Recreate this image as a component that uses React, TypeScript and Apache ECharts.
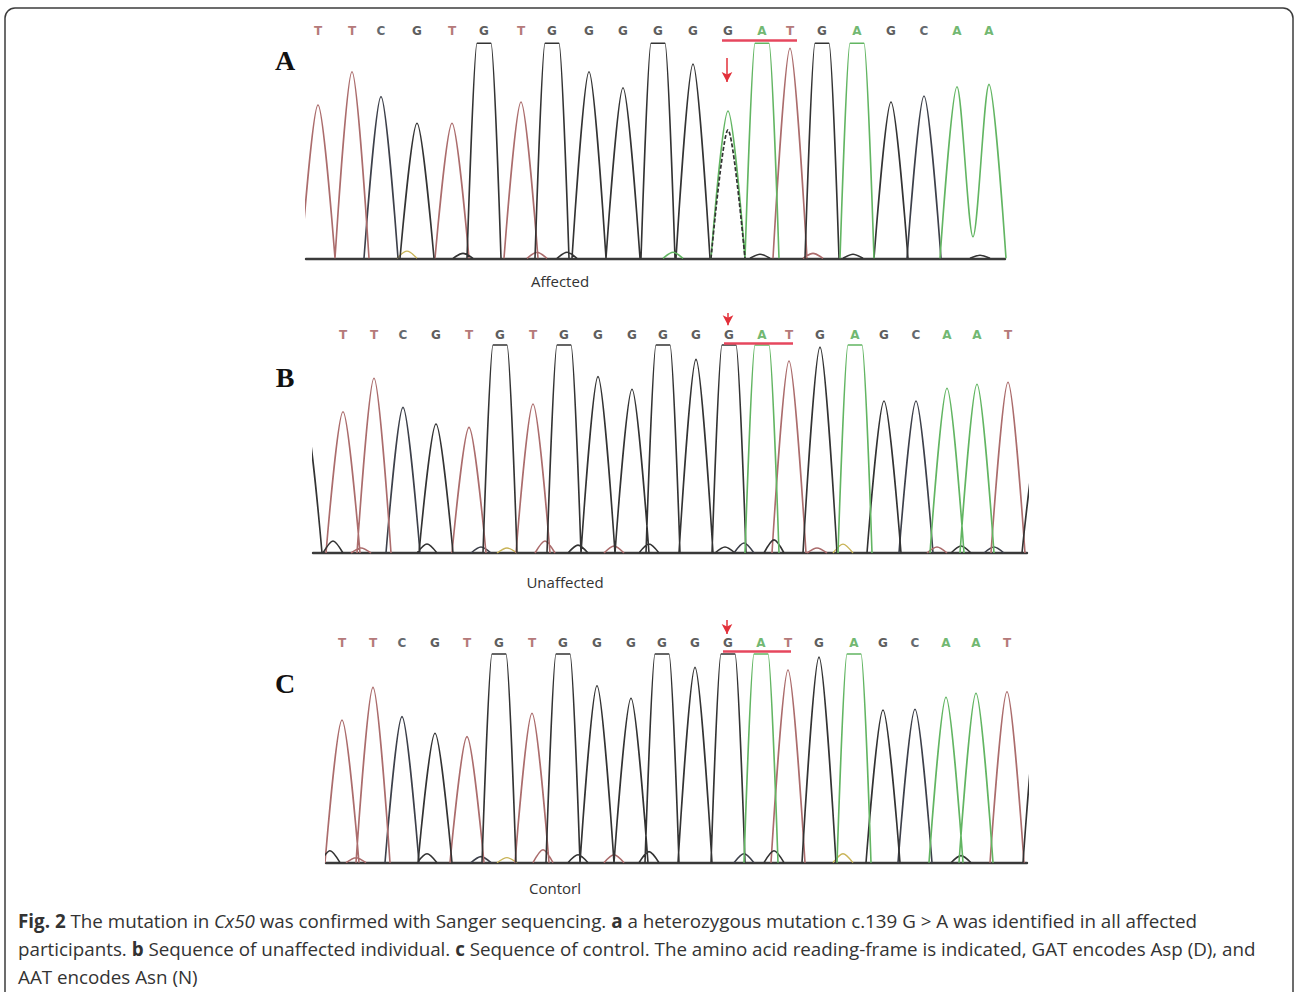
import React, { useEffect, useRef } from "react";
import * as echarts from "echarts";

// ---------- DATA (scan position units, RFU heights; 1000 = detector saturation) ----------
const A_CALLS = ["T","T","C","G","T","G","T","G","G","G","G","G","G","A","T","G","A","G","C","A","A"];
const A_DYES = ["T","T","C","G","T","G","T","G","G","G","G","G","A","A","T","G","A","G","C","A","A"];
const A_POS = [18, 52, 81, 117, 152, 184, 221, 252, 289, 323, 358, 393, 428, 462, 490, 522, 557, 591, 624, 657, 689];
const A_HEIGHT = [713, 868, 752, 628, 628, 1000, 727, 1000, 868, 793, 1000, 904, 685, 1000, 977, 1000, 1000, 727, 755, 798, 809];
const A_SEC_POS = [428];
const A_SEC_HEIGHT = [597];
const A_SEC_DYE = ["G"];
const A_JOINS = [[19, 100]];
const A_EDGE_POS: number[] = [];
const A_EDGE_HEIGHT: number[] = [];
const A_EDGE_DYE: string[] = [];
const A_NOISE_POS = [107, 163, 237, 267, 373, 460, 513, 553, 680];
const A_NOISE_HEIGHT = [33, 23, 28, 28, 28, 19, 23, 19, 14];
const A_NOISE_DYE = ["N", "G", "T", "G", "A", "G", "T", "G", "G"];

const B_CALLS = ["T","T","C","G","T","G","T","G","G","G","G","G","G","A","T","G","A","G","C","A","A","T"];
const B_DYES = B_CALLS;
const B_POS = [43, 74, 103, 136, 169, 200, 233, 264, 298, 332, 363, 396, 429, 462, 489, 520, 555, 584, 616, 647, 677, 708];
const B_HEIGHT = [679, 840, 700, 620, 604, 1000, 716, 1000, 848, 787, 1000, 931, 1000, 1000, 923, 990, 1000, 731, 731, 792, 811, 821];
const B_EDGE_POS = [5, 739];
const B_EDGE_HEIGHT = [660, 570];
const B_EDGE_DYE = ["G", "G"];
const B_NOISE_POS = [33, 61, 127, 181, 207, 245, 278, 314, 349, 425, 444, 474, 517, 543, 637, 661, 694];
const B_NOISE_HEIGHT = [58, 24, 43, 29, 24, 58, 38, 34, 43, 29, 48, 63, 24, 43, 29, 34, 29];
const B_NOISE_DYE = ["G", "T", "G", "C", "N", "T", "G", "T", "G", "G", "C", "G", "T", "N", "T", "G", "C"];

const C_CALLS = ["T","T","C","G","T","G","T","G","G","G","G","G","G","A","T","G","A","G","C","A","A","T"];
const C_DYES = C_CALLS;
const C_POS = [42, 73, 102, 135, 167, 199, 232, 263, 297, 331, 362, 395, 428, 461, 488, 519, 554, 583, 615, 646, 676, 707];
const C_HEIGHT = [684, 840, 700, 620, 604, 1000, 716, 1000, 848, 788, 1000, 936, 1000, 1000, 923, 985, 1000, 732, 735, 793, 812, 819];
const C_EDGE_POS = [740];
const C_EDGE_HEIGHT = [815];
const C_EDGE_DYE = ["G"];
const C_NOISE_POS = [30, 56, 127, 181, 207, 243, 278, 314, 349, 444, 474, 543, 661];
const C_NOISE_HEIGHT = [57, 24, 43, 29, 24, 62, 38, 38, 53, 43, 57, 43, 34];
const C_NOISE_DYE = ["G", "T", "G", "C", "N", "T", "G", "T", "G", "C", "G", "N", "G"];

const CONDITIONS = ["Affected", "Unaffected", "Contorl"];
const PANEL_LETTERS = ["A", "B", "C"];

// ---------- STYLE / LAYOUT ----------
const HALF = 17;
const FLAT = 7;
const NOISE_HALF = 10;
const SAT = 1000;

const DYE_COLORS: Record<string, string> = {
  G: "#333333",
  A: "#62b562",
  T: "#ab6c6c",
  C: "#3d404a",
  N: "#c9b458",
};
const CALL_COLORS: Record<string, string> = {
  G: "#5e5e5e",
  A: "#72b872",
  T: "#b57a7a",
  C: "#65696f",
};

const LAYOUT = [
  { left: 306, right: 1005, xMin: 6, xMax: 705, base: 258.3, ppu: 0.215, yMax: 1100, letterY: 1057,
    under: [422, 497, 1015], arrow: [427, 932, 820], labelX: 560, labelY: 281, tagY: 60 },
  { left: 313, right: 1027, xMin: 13, xMax: 727, base: 553, ppu: 0.208, yMax: 1200, letterY: 1048,
    under: [424, 493, 1010], arrow: [428, 1154, 1095], labelX: 565, labelY: 582, tagY: 377 },
  { left: 326, right: 1027, xMin: 26, xMax: 727, base: 862.7, ppu: 0.2087, yMax: 1200, letterY: 1051,
    under: [423, 491, 1014], arrow: [427, 1163, 1096], labelX: 555, labelY: 888, tagY: 683 },
];

const PANELS = [
  { calls: A_CALLS, dyes: A_DYES, pos: A_POS, height: A_HEIGHT, joins: A_JOINS,
    secPos: A_SEC_POS, secHeight: A_SEC_HEIGHT, secDye: A_SEC_DYE,
    edgePos: A_EDGE_POS, edgeHeight: A_EDGE_HEIGHT, edgeDye: A_EDGE_DYE,
    noisePos: A_NOISE_POS, noiseHeight: A_NOISE_HEIGHT, noiseDye: A_NOISE_DYE },
  { calls: B_CALLS, dyes: B_DYES, pos: B_POS, height: B_HEIGHT, joins: [] as number[][],
    secPos: [] as number[], secHeight: [] as number[], secDye: [] as string[],
    edgePos: B_EDGE_POS, edgeHeight: B_EDGE_HEIGHT, edgeDye: B_EDGE_DYE,
    noisePos: B_NOISE_POS, noiseHeight: B_NOISE_HEIGHT, noiseDye: B_NOISE_DYE },
  { calls: C_CALLS, dyes: C_DYES, pos: C_POS, height: C_HEIGHT, joins: [] as number[][],
    secPos: [] as number[], secHeight: [] as number[], secDye: [] as string[],
    edgePos: C_EDGE_POS, edgeHeight: C_EDGE_HEIGHT, edgeDye: C_EDGE_DYE,
    noisePos: C_NOISE_POS, noiseHeight: C_NOISE_HEIGHT, noiseDye: C_NOISE_DYE },
];

function peakPoints(p: number, h: number, half: number): number[][] {
  if (h >= SAT) {
    return [[p - half, 0], [p - FLAT, SAT], [p + FLAT, SAT], [p + half, 0]];
  }
  return [[p - half, 0], [p, h], [p + half, 0]];
}

function flatten(segs: number[][][]): any[] {
  const out: any[] = [];
  segs.forEach((s) => {
    s.forEach((pt) => out.push(pt));
    out.push([s[s.length - 1][0], null]);
  });
  return out;
}

function buildOption() {
  const grid: any[] = [];
  const xAxis: any[] = [];
  const yAxis: any[] = [];
  const series: any[] = [];

  PANELS.forEach((P, i) => {
    const L = LAYOUT[i];
    const h = L.yMax * L.ppu;
    grid.push({ left: L.left, width: L.right - L.left, top: L.base - h, height: h, containLabel: false });
    xAxis.push({
      type: "value", gridIndex: i, min: L.xMin, max: L.xMax,
      axisLine: { show: true, onZero: false, lineStyle: { color: "#3a3a3a", width: 2.4 } },
      axisTick: { show: false }, axisLabel: { show: false }, splitLine: { show: false },
    });
    yAxis.push({ type: "value", gridIndex: i, min: 0, max: L.yMax, show: false, splitLine: { show: false } });

    const segs: Record<string, number[][][]> = {};
    const add = (d: string, pts: number[][]) => {
      (segs[d] = segs[d] || []).push(pts);
    };
    P.noisePos.forEach((p, k) => add(P.noiseDye[k], peakPoints(p, P.noiseHeight[k], NOISE_HALF)));
    P.edgePos.forEach((p, k) => add(P.edgeDye[k], peakPoints(p, P.edgeHeight[k], HALF)));
    const joinMap: Record<number, number> = {};
    P.joins.forEach((j) => (joinMap[j[0]] = j[1]));
    for (let k = 0; k < P.pos.length; k++) {
      const s = peakPoints(P.pos[k], P.height[k], HALF);
      if (joinMap[k] !== undefined && k + 1 < P.pos.length) {
        const s2 = peakPoints(P.pos[k + 1], P.height[k + 1], HALF);
        const mid = (P.pos[k] + P.pos[k + 1]) / 2;
        add(P.dyes[k], [...s.slice(0, -1), [mid, joinMap[k]], ...s2.slice(1)]);
        k++;
      } else {
        add(P.dyes[k], s);
      }
    }
    ["N", "C", "T", "G", "A"].forEach((d) => {
      if (!segs[d]) return;
      series.push({
        type: "line", xAxisIndex: i, yAxisIndex: i, data: flatten(segs[d]),
        smooth: 0.3, smoothMonotone: "x", showSymbol: false, symbol: "none",
        connectNulls: false, clip: true, silent: true,
        lineStyle: { color: DYE_COLORS[d], width: d === "N" ? 1.3 : 1.6 },
        z: 2,
      });
    });
    if (P.secPos.length) {
      const sec: number[][][] = P.secPos.map((p, k) => peakPoints(p, P.secHeight[k], HALF));
      series.push({
        type: "line", xAxisIndex: i, yAxisIndex: i, data: flatten(sec),
        smooth: 0.3, smoothMonotone: "x", showSymbol: false, symbol: "none", silent: true,
        lineStyle: { color: DYE_COLORS[P.secDye[0]], width: 1.7, type: [4, 2] },
        z: 3,
      });
    }
    // base calls + annotation
    series.push({
      type: "scatter", xAxisIndex: i, yAxisIndex: i, symbolSize: 1, silent: true,
      clip: false,
      itemStyle: { color: "rgba(0,0,0,0)" },
      data: P.calls.map((c, k) => ({
        name: c, value: [P.pos[k], L.letterY],
        label: { color: CALL_COLORS[c] },
      })),
      label: {
        show: true, position: "inside", formatter: "{b}", opacity: 1,
        fontSize: 12, fontFamily: "DejaVu Sans", fontWeight: "bold",
      },
      labelLayout: { hideOverlap: false },
      markLine: {
        silent: true, animation: false, symbol: ["none", "none"],
        label: { show: false }, emphasis: { disabled: true },
        data: [
          [
            { coord: [L.under[0], L.under[2]], lineStyle: { color: "#e6475e", width: 2.5, type: "solid" } },
            { coord: [L.under[1], L.under[2]] },
          ],
          [
            { coord: [L.arrow[0], L.arrow[1]], symbol: "none", lineStyle: { color: "#e2303a", width: 1.5, type: "solid" } },
            { coord: [L.arrow[0], L.arrow[2]], symbol: "arrow", symbolSize: [8, 10] },
          ],
        ],
      },
      z: 5,
    });
  });

  const graphic: any[] = [
    {
      type: "rect", shape: { x: 5, y: 8, width: 1288, height: 1010, r: 10 },
      style: { fill: "none", stroke: "#3c3c3c", lineWidth: 1.5 }, silent: true,
    },
  ];
  LAYOUT.forEach((L, i) => {
    graphic.push({
      type: "text", x: 285, y: L.tagY,
      style: {
        text: PANEL_LETTERS[i], fontFamily: "Liberation Serif", fontWeight: "bold", fontSize: 28,
        fill: "#111", align: "center", verticalAlign: "middle",
      },
    });
    graphic.push({
      type: "text", x: L.labelX, y: L.labelY,
      style: {
        text: CONDITIONS[i], fontFamily: "Open Sans", fontSize: 15, fill: "#333",
        align: "center", verticalAlign: "middle",
      },
    });
  });
  const FS = 18.8;
  const rich = {
    b: { fontFamily: "Open Sans", fontSize: FS, fontWeight: "bold", fill: "#333" },
    i: { fontFamily: "Open Sans", fontSize: FS, fontStyle: "italic", fill: "#333" },
  };
  const lines = [
    "{b|Fig. 2} The mutation in {i|Cx50} was confirmed with Sanger sequencing. {b|a} a heterozygous mutation c.139 G > A was identified in all affected",
    "participants. {b|b} Sequence of unaffected individual. {b|c} Sequence of control. The amino acid reading-frame is indicated, GAT encodes Asp (D), and",
    "AAT encodes Asn (N)",
  ];
  lines.forEach((t, k) => {
    graphic.push({
      type: "text", x: 18, y: 921 + k * 28,
      style: {
        text: t, rich, fontFamily: "Open Sans", fontSize: FS, fill: "#333",
        align: "left", verticalAlign: "middle",
      },
    });
  });

  return { animation: false, backgroundColor: "#ffffff", grid, xAxis, yAxis, series, graphic };
}

export default function App() {
  const ref = useRef<HTMLDivElement>(null);
  useEffect(() => {
    document.body.style.margin = "0";
    if (!ref.current) return;
    const chart = echarts.init(ref.current, undefined, { renderer: "svg" });
    chart.setOption(buildOption());
    return () => chart.dispose();
  }, []);
  return <div ref={ref} style={{ width: 1298, height: 992 }} />;
}
